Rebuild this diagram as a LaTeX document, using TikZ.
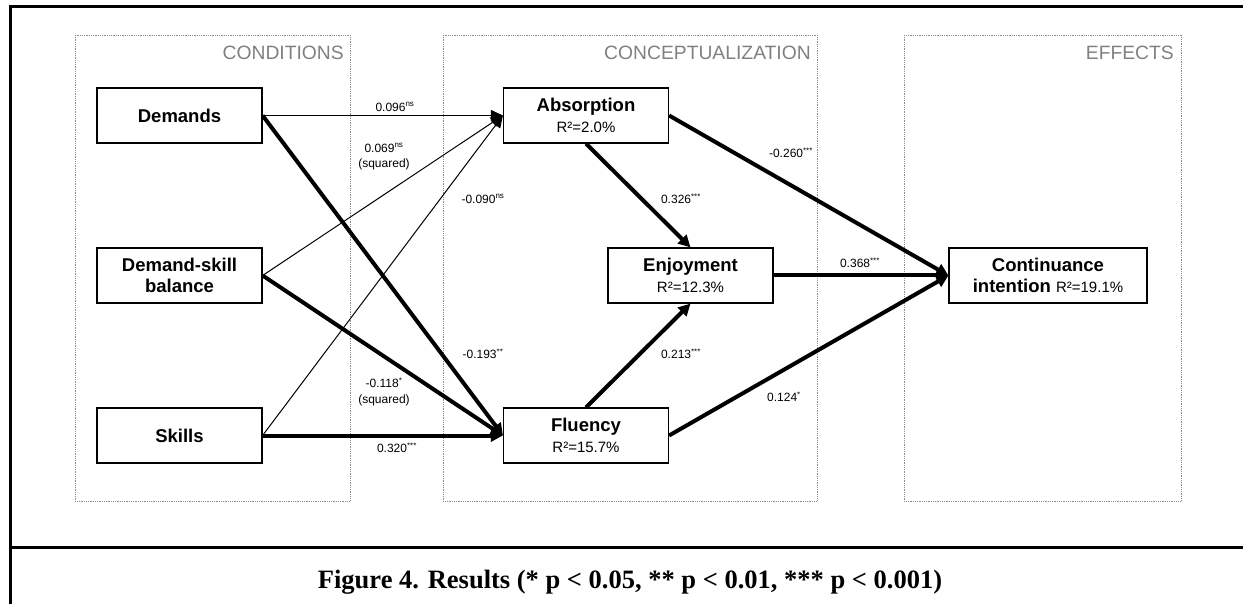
\documentclass[tikz,border=0pt]{standalone}
\usepackage{fontspec}
\setmainfont{Liberation Sans}
\newfontfamily\capfont{Liberation Serif}
\usetikzlibrary{arrows.meta}
\tikzset{
  box/.style={draw=black, line width=1.2pt, minimum width=165pt, minimum height=55pt, inner sep=0pt, align=center, fill=white, font=\fontsize{18.5}{21}\selectfont},
  grp/.style={draw=black!45, line width=0.9pt, dash pattern=on 0.9pt off 0.9pt},
  grplabel/.style={text=black!50, font=\fontsize{19.3}{21}\selectfont, anchor=east, inner sep=0pt},
  thinarr/.style={line width=1pt, -{Triangle[length=12pt,width=11pt]}},
  thickarr/.style={line width=4pt, -{Triangle[length=12pt,width=12pt]}},
  lbl/.style={font=\fontsize{12}{15.5}\selectfont, inner sep=0pt, align=center},
  frame/.style={line width=3pt, black}
}
\newcommand{\ttl}{\fontsize{18.5}{21}\selectfont\bfseries}
\newcommand{\rsq}{\fontsize{15}{21}\selectfont\mdseries}
\begin{document}
\begin{tikzpicture}[x=1pt,y=-1pt]
\path[use as bounding box] (0,0) rectangle (1243,604);
% outer frame
\draw[frame] (1243,7) -- (10,7) -- (10,604);
\draw[frame] (10,547) -- (1243,547);
% group boxes
\draw[grp] (75,35) rectangle (350,501);
\draw[grp] (443,35) rectangle (817,501);
\draw[grp] (904,35) rectangle (1181,501);
\node[grplabel] (gl1) at (344,53) {CONDITIONS};
\node[grplabel] (gl2) at (811,53) {CONCEPTUALIZATION};
\node[grplabel] (gl3) at (1174,53) {EFFECTS};
% nodes
\node[box] (dem) at (179.5,115.5) {\ttl Demands};
\node[box] (dsb) at (179.5,275.5) {\ttl Demand-skill\\\ttl balance};
\node[box] (ski) at (179.5,435.5) {\ttl Skills};
\node[box] (abs) at (586,115.5) {\ttl Absorption\\\rsq R²=2.0\%};
\node[box] (enj) at (690.5,275.5) {\ttl Enjoyment\\\rsq R²=12.3\%};
\node[box] (flu) at (586,435.5) {\ttl Fluency\\\rsq R²=15.7\%};
\node[box, minimum width=198pt] (con) at (1048,275.5) {\ttl Continuance\\\ttl intention {\rsq R²=19.1\%}};
% arrows
\draw[thinarr] (dem.east) -- (abs.west);
\draw[thinarr] (dsb.east) -- (abs.west);
\draw[thinarr] (ski.east) -- (abs.west);
\draw[thickarr] (dem.east) -- (flu.west);
\draw[thickarr] (dsb.east) -- (flu.west);
\draw[thickarr] (ski.east) -- (flu.west);
\draw[thickarr] (abs.south) -- (enj.north);
\draw[thickarr] (flu.north) -- (enj.south);
\draw[thickarr] (abs.east) -- (con.west);
\draw[thickarr] (enj.east) -- (con.west);
\draw[thickarr] (flu.east) -- (con.west);
% labels
\node[lbl] (l1) at (395,107) {0.096\textsuperscript{ns}};
\node[lbl] (l2) at (384,157) {0.069\textsuperscript{ns}\\(squared)};
\node[lbl] (l3) at (483,199) {-0.090\textsuperscript{ns}};
\node[lbl] (l4) at (791,153) {-0.260\textsuperscript{***}};
\node[lbl] (l5) at (681,199) {0.326\textsuperscript{***}};
\node[lbl] (l6) at (860,263) {0.368\textsuperscript{***}};
\node[lbl] (l7) at (483,354) {-0.193\textsuperscript{**}};
\node[lbl] (l8) at (681,354) {0.213\textsuperscript{***}};
\node[lbl] (l9) at (784,397) {0.124\textsuperscript{*}};
\node[lbl] (l10) at (384,392) {-0.118\textsuperscript{*}\\(squared)};
\node[lbl] (l11) at (397,448) {0.320\textsuperscript{***}};
% caption
\node[font=\capfont\bfseries\fontsize{26.5}{28}\selectfont, inner sep=0pt] (cap) at (630,582) {Figure 4. Results (* p < 0.05, ** p < 0.01, *** p < 0.001)};
\end{tikzpicture}
\end{document}
